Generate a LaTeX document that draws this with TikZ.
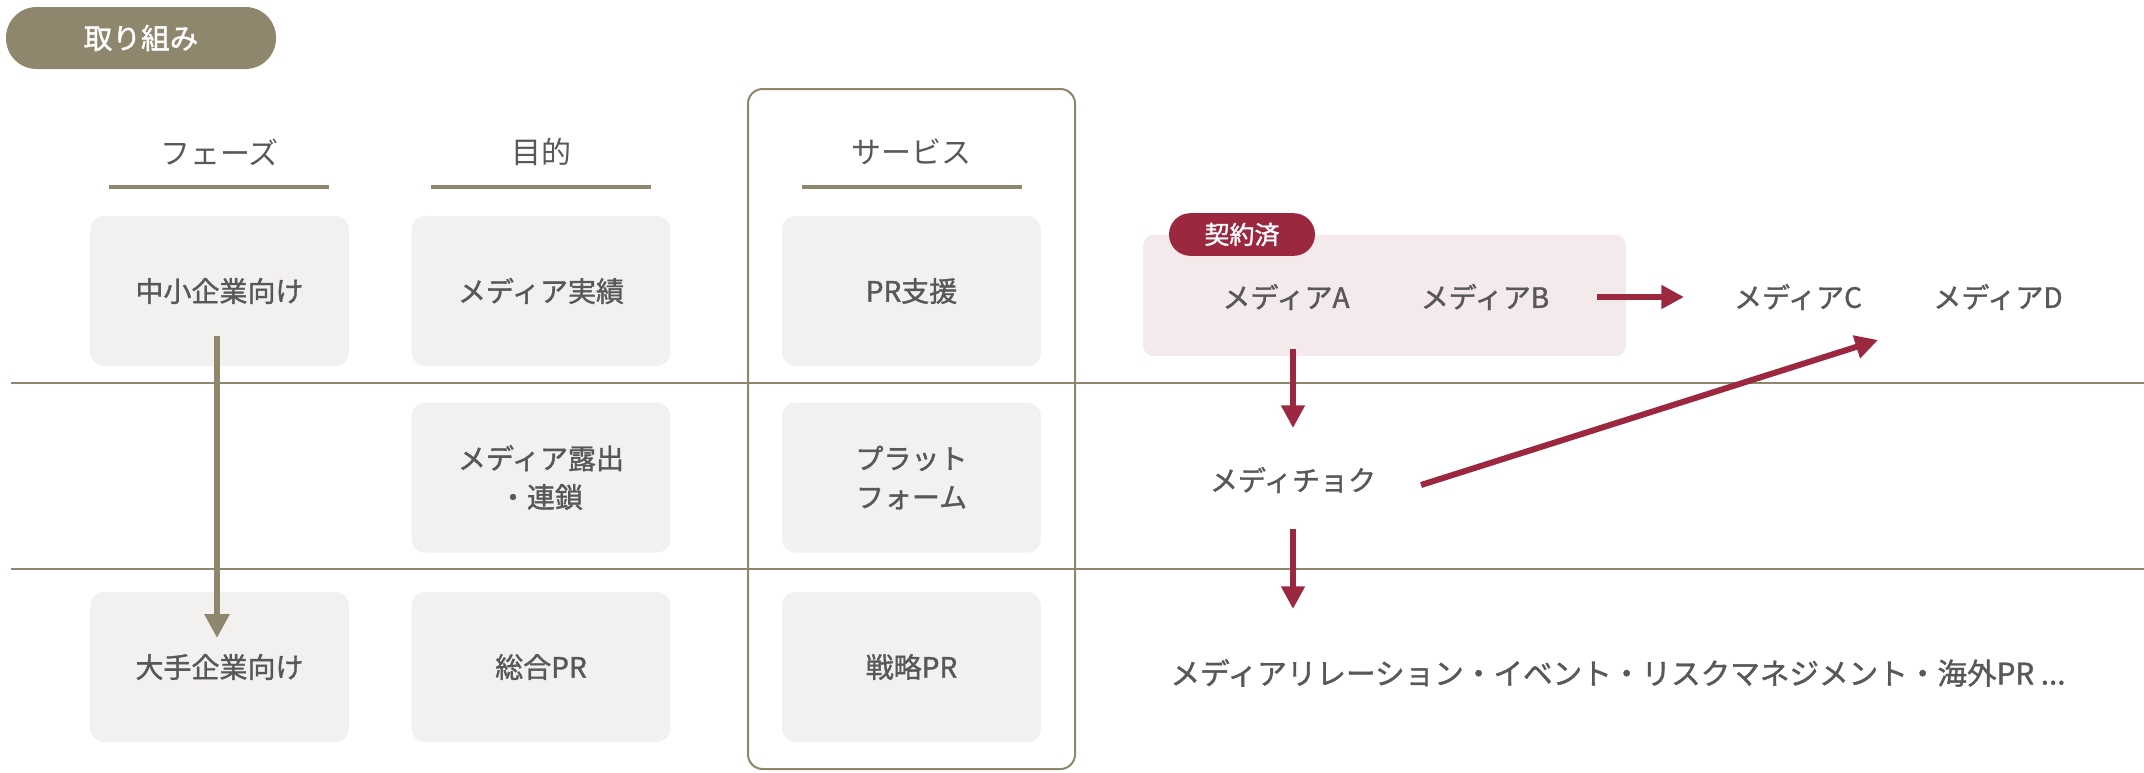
\documentclass[tikz,border=0pt]{standalone}
\usepackage{fontspec}
\setmainfont{Noto Sans CJK JP}
\newfontfamily\medfont{Noto Sans CJK JP}[FakeBold=1.3]
\usetikzlibrary{arrows.meta}
\definecolor{khaki}{HTML}{8E866D}
\definecolor{crim}{HTML}{9C2840}
\definecolor{txt}{HTML}{585858}
\definecolor{boxf}{HTML}{F2F1EF}
\definecolor{pinkf}{HTML}{F4E9EB}
\begin{document}
\begin{tikzpicture}[x=0.75pt,y=-0.75pt,
  cell/.style={fill=boxf, rounded corners=10pt, minimum width=194pt, minimum height=112.5pt,
    text=txt, font=\medfont\fontsize{21}{29}\selectfont, align=center, inner sep=0pt},
  head/.style={text=txt, font=\fontsize{22.5}{27}\selectfont, inner sep=0pt},
  media/.style={text=txt, font=\medfont\fontsize{21}{25}\selectfont, inner sep=0pt},
  uline/.style={draw=khaki, line width=3pt},
  sepline/.style={draw=khaki, line width=1.8pt},
  redarrow/.style={draw=crim, line width=4.5pt, -{Triangle[length=17pt,width=17pt]}},
  khakiarrow/.style={draw=khaki, line width=5pt, -{Triangle[length=18pt,width=18pt]}}
]
\useasboundingbox (0,0) rectangle (2144,772);

% title pill
\node[fill=khaki, rounded corners=23pt, minimum width=202.5pt, minimum height=46.5pt,
  text=white, font=\medfont\fontsize{21.5}{26}\selectfont, inner sep=0pt] (title) at (141,38) {取り組み};

% separators
\coordinate (s1l) at (11,383); \coordinate (s1r) at (2144,383);
\coordinate (s2l) at (11,569); \coordinate (s2r) at (2144,569);
\draw[sepline] (s1l) -- (s1r);
\draw[sepline] (s2l) -- (s2r);

% service frame
\draw[draw=khaki, line width=1.5pt, rounded corners=11pt] (748,89) rectangle (1075,769);

% headers
\node[head] (h1) at (219.5,152) {フェーズ};
\node[head] (h2) at (541,152) {目的};
\node[head] (h3) at (911.5,152) {サービス};
\draw[uline] (109,187) -- (329,187);
\draw[uline] (431,187) -- (651,187);
\draw[uline] (802,187) -- (1022,187);

% cells
\node[cell] (c11) at (219.5,291) {中小企業向け};
\node[cell] (c21) at (541,291) {メディア実績};
\node[cell] (c31) at (911.5,291) {PR支援};
\node[cell] (c22) at (541,477.5) {メディア露出\\・連鎖};
\node[cell] (c32) at (911.5,477.5) {プラット\\フォーム};
\node[cell] (c13) at (219.5,667) {大手企業向け};
\node[cell] (c23) at (541,667) {総合PR};
\node[cell] (c33) at (911.5,667) {戦略PR};

% khaki arrow
\coordinate (ka) at (217,336);
\coordinate (kb) at (217,638);
\draw[khakiarrow] (ka) -- (kb);

% pink contracted box
\node[fill=pinkf, rounded corners=8pt, minimum width=362pt, minimum height=91pt, inner sep=0pt] (pink) at (1384.5,295.5) {};
\node[fill=crim, rounded corners=16pt, minimum width=109.5pt, minimum height=32pt, inner sep=0pt,
  text=white, font=\medfont\fontsize{18.75}{22}\selectfont] (badge) at (1242,234.5) {契約済};

\node[media] (mA) at (1286,297) {メディアA};
\node[media] (mB) at (1485,297) {メディアB};
\node[media] (mC) at (1798,297) {メディアC};
\node[media] (mD) at (1998,297) {メディアD};
\node[media] (mc) at (1293,480) {メディチョク};
\node[media, font=\medfont\fontsize{22.2}{26}\selectfont] (mr) at (1618,673) {メディアリレーション・イベント・リスクマネジメント・海外PR ...};

% red arrows
\coordinate (bc1) at (1597,297); \coordinate (bc2) at (1684,297);
\draw[redarrow] (bc1) -- (bc2);
\coordinate (ad1) at (1293,349); \coordinate (ad2) at (1293,428);
\draw[redarrow] (ad1) -- (ad2);
\coordinate (cd1) at (1293,529); \coordinate (cd2) at (1293,609);
\draw[redarrow] (cd1) -- (cd2);
\coordinate (dg1) at (1421,485); \coordinate (dg2) at (1878,340);
\draw[redarrow] (dg1) -- (dg2);
\end{tikzpicture}
\end{document}
